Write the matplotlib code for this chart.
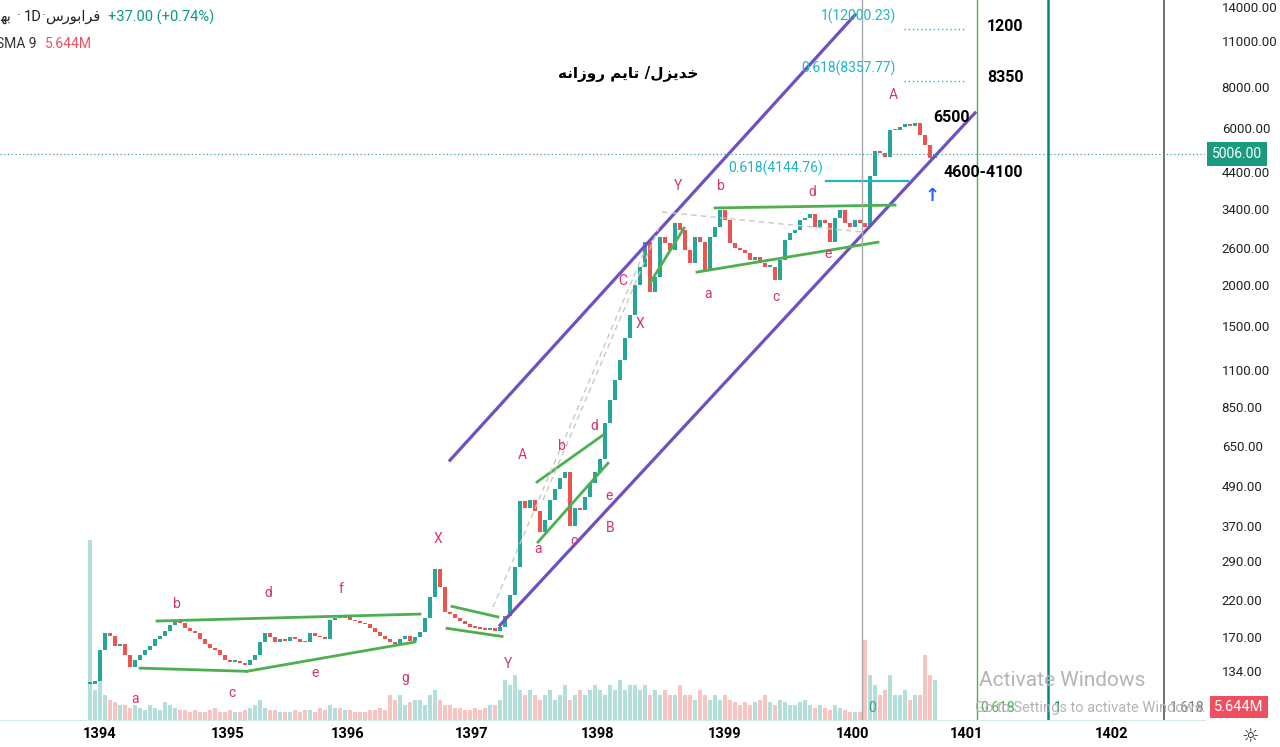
import matplotlib
matplotlib.use("Agg")
import matplotlib.pyplot as plt
from matplotlib.ticker import NullLocator
from matplotlib import transforms

# closes sampled along the chart (one value per bar, left to right)
closes = [
    123, 125, 156, 175, 172, 160, 162, 150, 138, 145,
    150, 155, 160, 168, 172, 178, 185, 192, 188, 182,
    178, 175, 168, 162, 158, 156, 150, 145, 143, 144,
    142, 140, 145, 150, 165, 175, 170, 164, 168, 166,
    170, 168, 165, 164, 175, 172, 170, 168, 192, 195,
    194, 197, 192, 190, 188, 186, 182, 177, 172, 168,
    165, 162, 168, 172, 166, 170, 177, 195, 225, 275,
    241, 203, 200, 195, 190, 186, 183, 182, 180, 179,
    181, 178, 183, 197, 228, 278, 440, 420, 444, 410,
    355, 385, 444, 480, 520, 540, 370, 420, 413, 453,
    502, 540, 590, 760, 894, 1030, 1180, 1380, 1620, 2000,
    2270, 2700, 1900, 2115, 2800, 2680, 2550, 3085, 2930, 2550,
    2330, 2800, 2700, 2222, 2800, 3000, 3380, 3150, 2680, 2600,
    2550, 2500, 2380, 2430, 2330, 2270, 2270, 2070, 2380, 2740,
    2870, 2930, 3150, 3200, 3290, 3000, 3150, 3085, 2700, 3200,
    3380, 3085, 3000, 3150, 3085, 3000, 4300, 5100, 5040, 4900,
    5900, 5920, 6050, 6180, 6100, 6200, 5700, 5320, 4850, 5006,
]
# volume in millions
volumes = [
    18, 3, 5.5, 2.5, 2, 1.8, 1.5, 1.5, 1.2, 1.5,
    1.2, 1.0, 1.5, 1.2, 1.0, 1.8, 1.5, 1.2, 1.0, 1.0,
    0.8, 1.0, 0.8, 0.8, 1.0, 1.2, 0.8, 0.8, 1.0, 0.8,
    0.8, 1.0, 1.2, 1.5, 2.0, 1.2, 1.0, 1.0, 0.8, 0.8,
    0.8, 1.0, 0.8, 1.0, 1.0, 0.8, 1.2, 1.0, 1.5, 1.2,
    1.2, 1.0, 1.0, 0.8, 0.8, 0.8, 1.0, 1.0, 1.2, 1.0,
    2.5, 2.0, 2.5, 1.5, 1.8, 2.0, 2.0, 1.5, 2.5, 3.0,
    2.0, 1.5, 1.5, 1.2, 1.2, 1.0, 1.0, 1.2, 1.0, 1.2,
    1.5, 1.5, 2.0, 4.0, 3.5, 4.5, 3.0, 2.5, 3.0, 2.5,
    2.0, 2.5, 3.0, 2.0, 2.5, 3.5, 2.0, 2.5, 3.0, 2.5,
    3.0, 3.5, 3.0, 2.5, 3.5, 3.0, 4.0, 3.0, 3.5, 3.5,
    3.0, 3.5, 2.5, 3.0, 2.5, 3.0, 2.5, 2.5, 3.5, 2.5,
    2.5, 2.0, 3.0, 2.5, 2.0, 2.5, 2.0, 2.5, 2.0, 1.8,
    1.5, 1.8, 1.5, 1.8, 2.0, 2.5, 1.8, 1.5, 2.0, 1.8,
    1.5, 1.5, 1.8, 2.0, 1.5, 1.2, 1.5, 1.2, 1.0, 1.5,
    1.2, 1.0, 0.8, 0.8, 0.8, 8.0, 4.5, 3.5, 2.5, 3.0,
    4.5, 2.5, 2.5, 3.0, 2.0, 2.5, 2.5, 6.5, 4.5, 4.0,
]
last_price = 5006.00

year_labels = ["1394", "1395", "1396", "1397", "1398", "1399", "1400", "1401", "1402"]
year_pos = [2, 27.6, 51.6, 76.4, 101.6, 127, 152.6, 175.4, 204.4]
price_ticks = [14000, 11000, 8000, 6000, 4400, 3400, 2600, 2000, 1500,
               1100, 850, 650, 490, 370, 290, 220, 170, 134]

UP = "#26a69a"
DOWN = "#ef5350"
PURPLE = "#6f4fc4"
GREEN = "#4caf50"
WAVE = "#d6336c"
CYAN = "#1fb5c8"

plt.rcParams["font.family"] = ["Roboto", "DejaVu Sans"]

fig = plt.figure(figsize=(12.8, 7.47), dpi=100)
ax = fig.add_axes([0, 27 / 747, 1205 / 1280, 720 / 747])
axv = ax.twinx()
ax.set_zorder(axv.get_zorder() + 1)
ax.patch.set_visible(False)

# candles (open = previous close)
opens = [closes[0]] + closes[:-1]
idx = list(range(len(closes)))
cols = [UP if c >= o else DOWN for o, c in zip(opens, closes)]
bottoms = [min(o, c) for o, c in zip(opens, closes)]
heights = [max(abs(c - o), min(o, c) * 0.012) for o, c in zip(opens, closes)]
ax.bar(idx, heights, bottom=bottoms, width=0.85, color=cols, linewidth=0)

# volume
axv.bar(idx, volumes, width=0.7, color=cols, alpha=0.35, linewidth=0)
axv.set_ylim(0, 72)
axv.axis("off")

ax.set_yscale("log")
ax.set_ylim(95.3, 14700)
ax.set_xlim(-18, 223)

# channel
ax.plot([72, 153], [587, 13240], color=PURPLE, lw=2.3)
ax.plot([82, 177], [185, 6670], color=PURPLE, lw=2.3)

# green pattern lines
green_lines = [
    ([13.4, 66], [190.5, 200]),
    ([10, 31.4], [137, 134]),
    ([31.4, 65], [134, 164.5]),
    ([72.4, 81.6], [211, 196]),
    ([71.4, 82.4], [181, 171]),
    ([89.4, 102.6], [504, 700]),
    ([89.6, 103.6], [331, 575]),
    ([112, 118.8], [2028, 2980]),
    ([125, 161], [3430, 3500]),
    ([121.4, 157.6], [2190, 2700]),
]
for xs, ys in green_lines:
    ax.plot(xs, ys, color=GREEN, lw=2)

# dashed guide lines
for xs, ys in [([80.6, 111], [210, 2555]), ([90.6, 114], [444, 3044]),
               ([114.4, 154.4], [3335, 2900])]:
    ax.plot(xs, ys, color="#c8c8c8", lw=1, ls=(0, (4, 3)))

# fib levels
ax.plot([147.2, 163.6], [4144.76, 4144.76], color=CYAN, lw=1.6)
ax.text(127.6, 4540, "0.618(4144.76)", color=CYAN, fontsize=10, va="center")
ax.plot([162.8, 175], [12000.23, 12000.23], color=CYAN, lw=1, ls=(0, (1, 2)))
ax.plot([162.8, 175], [8357.77, 8357.77], color=CYAN, lw=1, ls=(0, (1, 2)))
ax.text(161.2, 13140, "1(12000.23)", color=CYAN, fontsize=10, va="center", ha="right")
ax.text(161.2, 9140, "0.618(8357.77)", color=CYAN, fontsize=10, va="center", ha="right")

# fib time lines
ax.axvline(154.4, color="#a8a8a8", lw=1)
ax.axvline(177.4, color=GREEN, lw=1)
ax.axvline(191.6, color="#00897b", lw=1.8)
ax.axvline(214.8, color="#555555", lw=1.2)
for x, t, c in [(156.4, "0", "#26a69a"), (181.6, "0.618", GREEN),
                (193.6, "1", "#00897b"), (219.4, "1.618", "#777777")]:
    ax.text(x, 104, t, color=c, fontsize=10, ha="center", va="center")

# last price line
ax.axhline(last_price, color="#4a9aa8", lw=0.9, ls=(0, (1, 2)))

# targets
for x, y, t in [(183, 12170, "1200"), (183, 8575, "8350"),
                (172.4, 6480, "6500"), (178.6, 4410, "4600-4100")]:
    ax.text(x, y, t, fontsize=11.5, fontweight="bold", ha="center", va="center")
ax.text(107.6, 8755, "ﻪﻧﺍﺯﻭﺭ ﻢﻳﺎﺗ /ﻝﺰﻳﺪﺧ", fontsize=11, fontweight="bold",
        ha="center", va="center", family=["DejaVu Sans"])
ax.text(168.4, 3730, "↑", color="#2962ff", fontsize=13, fontweight="bold",
        ha="center", va="center", family=["DejaVu Sans"])

# wave labels
waves = [
    (9, 110.4, "a"), (17.4, 214, "b"), (28.4, 115, "c"), (35.6, 232, "d"),
    (45, 132.4, "e"), (50.2, 238, "f"), (63, 127.7, "g"),
    (69.6, 338, "X"), (83.6, 141, "Y"),
    (86.4, 608, "A"), (89.6, 315, "a"), (94.4, 648, "b"), (96.8, 333, "c"),
    (100.8, 745, "d"), (103.8, 457, "e"), (104, 365, "B"),
    (106.6, 2058, "C"), (110, 1522, "X"), (117.6, 4000, "Y"),
    (126.2, 4000, "b"), (123.6, 1878, "a"), (137.2, 1840, "c"),
    (144.4, 3834, "d"), (147.6, 2485, "e"), (160.6, 7555, "A"),
]
for x, y, t in waves:
    ax.text(x, y, t, color=WAVE, fontsize=10, ha="center", va="center")

# watermark
ax.text(194.4, 126, "Activate Windows", color="#b4b4b4", fontsize=15,
        ha="center", va="center")
ax.text(177, 104, "Go to Settings to activate Windows.", color="#b4b4b4",
        fontsize=10.5, va="center")

# axes styling
for s in ax.spines.values():
    s.set_visible(False)
ax.spines["bottom"].set_visible(True)
ax.spines["bottom"].set_color("#d5eaea")
ax.set_xticks(year_pos, year_labels)
ax.tick_params(axis="x", length=0, pad=5, labelsize=10.5)
for lb in ax.get_xticklabels():
    lb.set_fontweight("semibold")
ax.yaxis.tick_right()
ax.set_yticks(price_ticks, [f"{v:.2f}" for v in price_ticks])
ax.yaxis.set_minor_locator(NullLocator())
ax.tick_params(axis="y", length=0, pad=12, labelsize=9.5, labelcolor="#222222")

tr = transforms.blended_transform_factory(ax.transAxes, ax.transData)
ax.text(1.006, last_price, "5006.00", transform=tr, color="white", fontsize=10,
        va="center", ha="left", clip_on=False,
        bbox=dict(boxstyle="square,pad=0.35", fc="#1a9a7e", ec="none"))
fig.text(1214 / 1280, 1 - 707 / 747, "5.644M", color="white", fontsize=10.5,
         va="center", ha="left",
         bbox=dict(boxstyle="square,pad=0.3", fc="#ef4f5e", ec="none"))
fig.text(1250 / 1280, 1 - 736 / 747, "☼", fontsize=14, ha="center", va="center",
         color="#333333", family=["DejaVu Sans"])

# header
hy = 1 - 17 / 747
fig.text(11 / 1280, hy, "ﻬﺑ", fontsize=10.5, va="center", ha="right",
         color="#222222", family=["DejaVu Sans"])
fig.text(19 / 1280, hy, "·", fontsize=10.5, va="center", ha="center", color="#555555")
fig.text(24 / 1280, hy, "1D", fontsize=10.5, va="center", color="#222222")
fig.text(44 / 1280, hy, "·", fontsize=10.5, va="center", ha="center", color="#555555")
fig.text(100 / 1280, hy, "ﺱﺭﻮﺑﺍﺮﻓ", fontsize=10.5, va="center", ha="right",
         color="#222222", family=["DejaVu Sans"])
fig.text(108 / 1280, hy, "+37.00 (+0.74%)", fontsize=10.5,
         va="center", color="#089981")
fig.text(-0.003, 1 - 44 / 747, "SMA 9", fontsize=10, va="center", color="#333333")
fig.text(45 / 1280, 1 - 44 / 747, "5.644M", fontsize=10, va="center", color="#ef4f5e")

fig.savefig("out.png", dpi=100)
